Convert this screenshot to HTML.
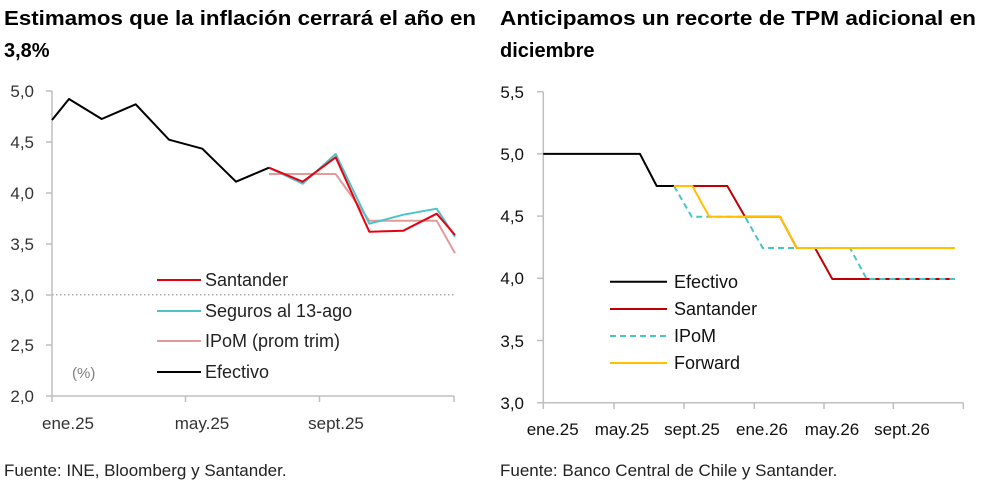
<!DOCTYPE html>
<html><head><meta charset="utf-8"><style>
html,body{margin:0;padding:0;background:#fff;}
svg{display:block;font-family:"Liberation Sans",sans-serif;}
</style></head><body>
<svg width="981" height="485" viewBox="0 0 981 485" xmlns="http://www.w3.org/2000/svg">
<g font-weight="bold" font-size="20" fill="#000">
<text x="4" y="25" textLength="472" lengthAdjust="spacingAndGlyphs">Estimamos que la inflación cerrará el año en</text>
<text x="4" y="57">3,8%</text>
<text x="500" y="25" textLength="476" lengthAdjust="spacingAndGlyphs">Anticipamos un recorte de TPM adicional en</text>
<text x="500" y="57">diciembre</text>
</g>
<!-- Left chart -->
<g stroke="#bfbfbf" stroke-width="1.5" fill="none">
<line x1="52" y1="91" x2="52" y2="396"/>
<line x1="52" y1="396" x2="454" y2="396"/>
<line x1="46" y1="91" x2="52" y2="91"/><line x1="46" y1="142" x2="52" y2="142"/><line x1="46" y1="193" x2="52" y2="193"/><line x1="46" y1="244" x2="52" y2="244"/><line x1="46" y1="295" x2="52" y2="295"/><line x1="46" y1="345" x2="52" y2="345"/><line x1="46" y1="396" x2="52" y2="396"/>
<line x1="52" y1="396" x2="52" y2="402"/><line x1="185.5" y1="396" x2="185.5" y2="402"/><line x1="319.5" y1="396" x2="319.5" y2="402"/><line x1="454" y1="396" x2="454" y2="402"/>
</g>
<line x1="52" y1="294.7" x2="454" y2="294.7" stroke="#a6a6a6" stroke-width="1.3" stroke-dasharray="1.5,2.5"/>
<g font-size="17" fill="#333" text-anchor="end">
<text x="34" y="97">5,0</text><text x="34" y="148">4,5</text><text x="34" y="199">4,0</text><text x="34" y="250">3,5</text><text x="34" y="301">3,0</text><text x="34" y="351">2,5</text><text x="34" y="402">2,0</text>
</g>
<g font-size="17" fill="#333" text-anchor="middle">
<text x="68" y="429">ene.25</text><text x="202" y="429">may.25</text><text x="336" y="429">sept.25</text>
</g>
<text x="72" y="378" font-size="15" fill="#808080">(%)</text>
<g fill="none" stroke-width="2" stroke-linejoin="round">
<polyline stroke="#e39a9a" points="269,174 335.7,174 369.3,220.7 436.7,220.7 455,253.3"/>
<polyline stroke="#4bc4c8" points="269,167.7 302.7,183.7 335.7,154 369.3,223.7 403.3,214.7 436.7,208.7 455,236.7"/>
<polyline stroke="#e8000f" points="269,167.7 302.7,181.7 335.7,157.3 369.3,231.7 403.3,230.7 436.7,213.7 455,235"/>
<polyline stroke="#000" points="52,120 69,99 101.7,119 135.7,104.3 169,139.7 202.3,148.7 236,181.7 269,167.7"/>
<line x1="157" y1="280" x2="201" y2="280" stroke="#e8000f"/>
<line x1="157" y1="311" x2="201" y2="311" stroke="#4bc4c8"/>
<line x1="157" y1="341" x2="201" y2="341" stroke="#e39a9a"/>
<line x1="157" y1="372" x2="201" y2="372" stroke="#000"/>
</g>
<g font-size="18" fill="#222">
<text x="205" y="286">Santander</text><text x="205" y="317">Seguros al 13-ago</text><text x="205" y="347">IPoM (prom trim)</text><text x="205" y="378">Efectivo</text>
</g>
<!-- Right chart -->
<g stroke="#bfbfbf" stroke-width="1.5" fill="none">
<line x1="543.3" y1="91.7" x2="543.3" y2="402.7"/>
<line x1="543.3" y1="402.7" x2="963.3" y2="402.7"/>
<line x1="537" y1="91.7" x2="543.3" y2="91.7"/><line x1="537" y1="153.9" x2="543.3" y2="153.9"/><line x1="537" y1="216.1" x2="543.3" y2="216.1"/><line x1="537" y1="278.3" x2="543.3" y2="278.3"/><line x1="537" y1="340.5" x2="543.3" y2="340.5"/><line x1="537" y1="402.7" x2="543.3" y2="402.7"/>
<line x1="543.3" y1="402.7" x2="543.3" y2="409"/><line x1="614" y1="402.7" x2="614" y2="409"/><line x1="684" y1="402.7" x2="684" y2="409"/><line x1="754.3" y1="402.7" x2="754.3" y2="409"/><line x1="824" y1="402.7" x2="824" y2="409"/><line x1="893.3" y1="402.7" x2="893.3" y2="409"/><line x1="963.3" y1="402.7" x2="963.3" y2="409"/>
</g>
<g font-size="17" fill="#111" text-anchor="end">
<text x="524" y="98">5,5</text><text x="524" y="160">5,0</text><text x="524" y="222">4,5</text><text x="524" y="284">4,0</text><text x="524" y="347">3,5</text><text x="524" y="409">3,0</text>
</g>
<g font-size="17" fill="#111" text-anchor="middle">
<text x="552.7" y="435">ene.25</text><text x="622" y="435">may.25</text><text x="692" y="435">sept.25</text><text x="762" y="435">ene.26</text><text x="832" y="435">may.26</text><text x="902" y="435">sept.26</text>
</g>
<g fill="none" stroke-width="2" stroke-linejoin="round">
<polyline stroke="#000" points="543.3,153.9 640,153.9 656.7,186 674,186"/>
<polyline stroke="#c00000" points="674,186 727.3,186 745,216.7 780,216.7 796.7,248 815,248 832.3,279 955,279"/>
<polyline stroke="#4bc4c8" stroke-dasharray="6,4" points="674,186 691.7,216.7 745,216.7 762.7,248 850,248 866.7,279 955,279"/>
<polyline stroke="#ffc000" points="674,186 692.3,186 709.3,216.7 780,216.7 796.7,248 955,248"/>
<line x1="610" y1="281.7" x2="667" y2="281.7" stroke="#000"/>
<line x1="610" y1="309" x2="667" y2="309" stroke="#c00000"/>
<line x1="610" y1="336" x2="667" y2="336" stroke="#4bc4c8" stroke-dasharray="6,4"/>
<line x1="610" y1="363" x2="667" y2="363" stroke="#ffc000"/>
</g>
<g font-size="18" fill="#111">
<text x="674" y="288">Efectivo</text><text x="674" y="315">Santander</text><text x="674" y="342">IPoM</text><text x="674" y="369">Forward</text>
</g>
<g font-size="17" fill="#222">
<text x="4" y="476">Fuente: INE, Bloomberg y Santander.</text>
<text x="500" y="476">Fuente: Banco Central de Chile y Santander.</text>
</g>
</svg>
</body></html>
